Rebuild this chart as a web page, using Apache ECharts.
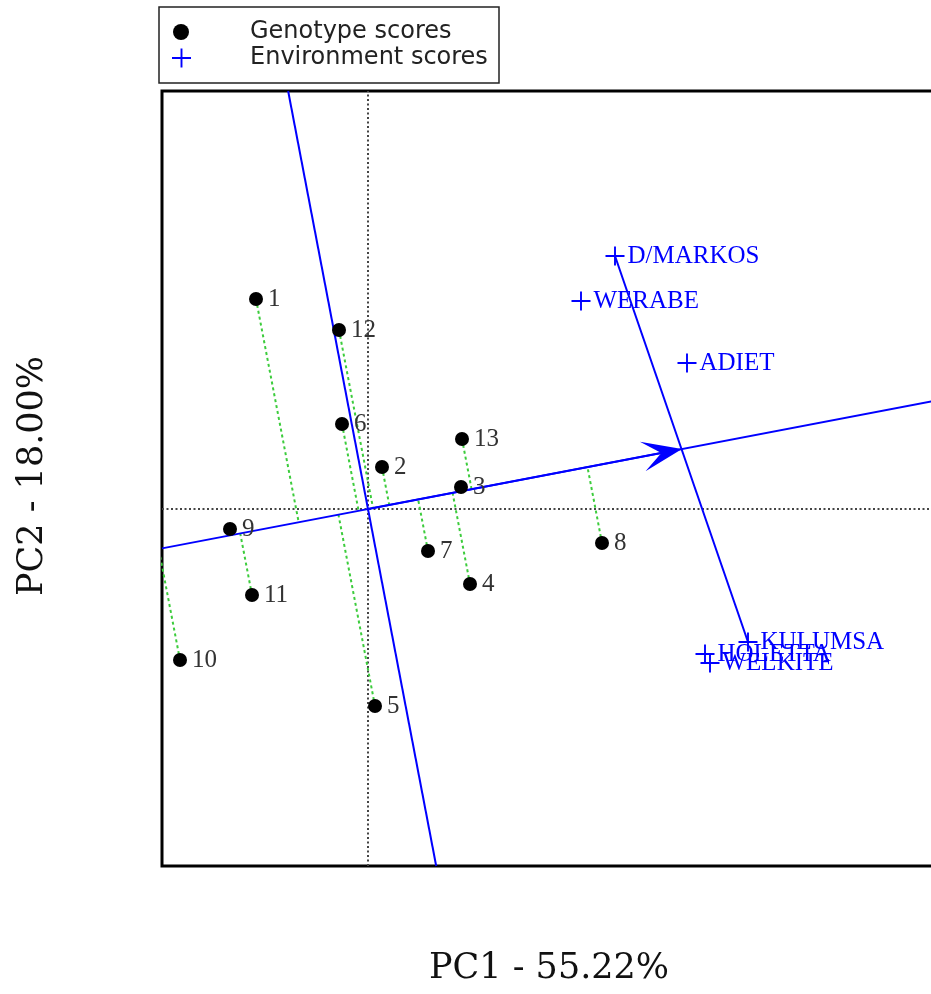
<!DOCTYPE html>
<html>
<head>
<meta charset="utf-8">
<script src="https://cdn.jsdelivr.net/npm/echarts@6/dist/echarts.min.js"></script>
<style>
  html, body { margin: 0; padding: 0; background: #fff; }
  #chart { width: 931px; height: 994px; }
</style>
</head>
<body>
<div id="chart"></div>
<script>
// genotype scores (PC1, PC2)
const genotypeNames = ['1', '2', '3', '4', '5', '6', '7', '8', '9', '10', '11', '12', '13']
const genotypeX = [-1.12, 0.14, 0.93, 1.02, 0.07, -0.26, 0.60, 2.34, -1.38, -1.88, -1.16, -0.29, 0.94]
const genotypeY = [2.10, 0.42, 0.22, -0.75, -1.97, 0.85, -0.42, -0.34, -0.20, -1.51, -0.86, 1.79, 0.70]

// environment scores
const envNames = ['D/MARKOS', 'WERABE', 'ADIET', 'KULUMSA', 'HOLETTA', 'WELKITE']
const envX = [2.47, 2.13, 3.19, 3.80, 3.37, 3.42]
const envY = [2.53, 2.08, 1.46, -1.33, -1.45, -1.54]

// average environment coordinate (arrow tip of the AEA)
const aeaTip = [3.14, 0.60]

const xRange = [-2.06, 5.69]
const yRange = [-3.57, 4.18]
const axisTitles = ['PC1 - 55.22%', 'PC2 - 18.00%']
const legendNames = ['Genotype scores', 'Environment scores']

const BLUE = '#0000ff'
const PLUS = 'path://M9,0H11V9H20V11H11V20H9V11H0V9H9Z'
const ARROW = 'path://M15,0L30,40L15,21L0,40Z'

const tx = aeaTip[0]
const ty = aeaTip[1]
const tLen = Math.sqrt(tx * tx + ty * ty)
// projection of a point onto the AEA line
function project (x, y) {
  const t = (x * tx + y * ty) / (tx * tx + ty * ty)
  return [t * tx, t * ty]
}
// arrow symbol is centred on the line end, so stop the line half an arrow short
const arrowHalf = 0.2
const arrowEnd = [tx - arrowHalf * tx / tLen, ty - arrowHalf * ty / tLen]

const genotypeData = genotypeNames.map((n, i) => ({ name: n, value: [genotypeX[i], genotypeY[i]] }))
const envData = envNames.map((n, i) => ({ name: n, value: [envX[i], envY[i]] }))
const projData = genotypeNames.map((n, i) => ({
  coords: [[genotypeX[i], genotypeY[i]], project(genotypeX[i], genotypeY[i])]
}))

const aeaLine = [[xRange[0], xRange[0] * ty / tx], [xRange[1], xRange[1] * ty / tx]]
const ordLine = [[-ty / tx * yRange[1], yRange[1]], [-ty / tx * yRange[0], yRange[0]]]
const envLine = [[envX[0], envY[0]], [envX[3], envY[3]]]

const blueLine = (data, z) => ({
  type: 'line',
  data: data,
  symbol: 'none',
  silent: true,
  z: z,
  lineStyle: { color: BLUE, width: 2 }
})

const grayDot = { color: '#444', width: 2, type: [2, 2.5] }

const chart = echarts.init(document.getElementById('chart'))
chart.setOption({
  animation: false,
  backgroundColor: '#fff',
  grid: {
    left: 162,
    top: 91,
    width: 775,
    height: 775,
    show: true,
    borderColor: '#000',
    borderWidth: 3,
    outerBoundsMode: 'none'
  },
  xAxis: {
    type: 'value',
    min: xRange[0],
    max: xRange[1],
    axisLine: { show: false },
    axisTick: { show: false },
    axisLabel: { show: false },
    splitLine: { show: false }
  },
  yAxis: {
    type: 'value',
    min: yRange[0],
    max: yRange[1],
    axisLine: { show: false },
    axisTick: { show: false },
    axisLabel: { show: false },
    splitLine: { show: false }
  },
  legend: [
    {
      data: [{ name: legendNames[0], icon: 'circle' }],
      orient: 'vertical',
      left: 173,
      top: 20,
      padding: 0,
      itemWidth: 16,
      itemHeight: 16,
      selectedMode: false,
      textStyle: { fontFamily: 'DejaVu Sans', fontSize: 24, color: '#222', padding: [0, 0, 0, 56] }
    },
    {
      data: [{ name: legendNames[1], icon: PLUS }],
      orient: 'vertical',
      left: 172,
      top: 46,
      padding: 0,
      itemWidth: 19,
      itemHeight: 19,
      selectedMode: false,
      textStyle: { fontFamily: 'DejaVu Sans', fontSize: 24, color: '#222', padding: [0, 0, 0, 54] }
    }
  ],
  graphic: [
    {
      type: 'rect',
      shape: { x: 159, y: 7, width: 340, height: 76 },
      style: { fill: 'none', stroke: '#222', lineWidth: 1.5 },
      silent: true
    },
    {
      type: 'text',
      x: 549,
      y: 969,
      style: {
        text: axisTitles[0],
        font: '35px "DejaVu Serif"',
        fill: '#111',
        align: 'center',
        verticalAlign: 'middle'
      }
    },
    {
      type: 'text',
      x: 33,
      y: 476,
      rotation: Math.PI / 2,
      style: {
        text: axisTitles[1],
        font: '35px "DejaVu Serif"',
        fill: '#111',
        align: 'center',
        verticalAlign: 'middle'
      }
    }
  ],
  series: [
    {
      type: 'line',
      data: [[xRange[0], 0], [xRange[1], 0]],
      symbol: 'none',
      silent: true,
      z: 1,
      lineStyle: grayDot
    },
    {
      type: 'line',
      data: [[0, yRange[0]], [0, yRange[1]]],
      symbol: 'none',
      silent: true,
      z: 1,
      lineStyle: grayDot
    },
    {
      type: 'lines',
      coordinateSystem: 'cartesian2d',
      clip: true,
      silent: true,
      z: 2,
      data: projData,
      lineStyle: { color: '#3ccc3c', width: 2, type: [3, 3], opacity: 1 }
    },
    Object.assign(blueLine(aeaLine, 3), {
      markLine: {
        silent: true,
        symbol: ['none', ARROW],
        symbolSize: [30, 40],
        label: { show: false },
        lineStyle: { color: BLUE, width: 2, type: 'solid' },
        itemStyle: { color: BLUE },
        data: [[{ coord: [0, 0] }, { coord: arrowEnd }]]
      }
    }),
    blueLine(ordLine, 3),
    blueLine(envLine, 3),
    {
      name: legendNames[0],
      type: 'scatter',
      data: genotypeData,
      symbol: 'circle',
      symbolSize: 14,
      silent: true,
      z: 5,
      itemStyle: { color: '#000', opacity: 1 },
      label: {
        show: true,
        position: 'right',
        distance: 5,
        formatter: '{b}',
        fontFamily: 'Liberation Serif',
        fontSize: 25,
        color: '#333'
      }
    },
    {
      name: legendNames[1],
      type: 'scatter',
      data: envData,
      symbol: PLUS,
      symbolSize: 19,
      silent: true,
      z: 5,
      itemStyle: { color: BLUE, opacity: 1 },
      label: {
        show: true,
        position: 'right',
        distance: 3,
        formatter: '{b}',
        fontFamily: 'Liberation Serif',
        fontSize: 25,
        color: BLUE
      }
    }
  ]
})
</script>
</body>
</html>
